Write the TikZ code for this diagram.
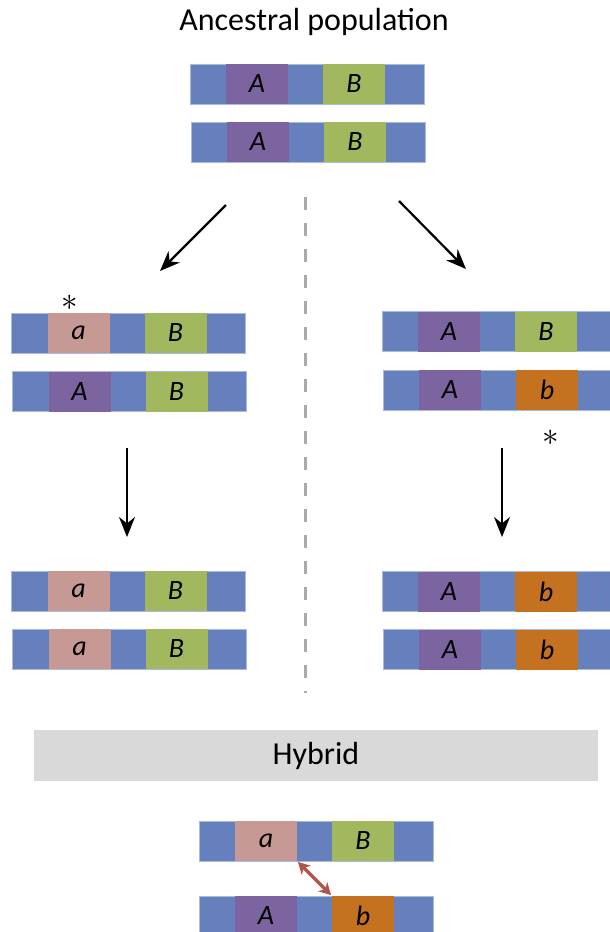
\documentclass[tikz,border=0pt]{standalone}
\usepackage{fontspec}
\usepackage{graphicx}
\setmainfont{Carlito}
\usetikzlibrary{arrows.meta}
\definecolor{chromblue}{RGB}{101,128,188}
\definecolor{chromedge}{RGB}{170,186,222}
\definecolor{genepurple}{RGB}{123,100,160}
\definecolor{genegreen}{RGB}{161,184,94}
\definecolor{genepink}{RGB}{199,153,149}
\definecolor{geneorange}{RGB}{196,113,32}
\definecolor{bargray}{RGB}{217,217,217}
\definecolor{divgray}{RGB}{170,170,170}
\definecolor{clash}{RGB}{178,86,76}
\tikzstyle{chromo} = [rectangle, fill=chromblue, draw=chromedge, line width=0.8pt, minimum width=234pt, minimum height=40pt, inner sep=0pt]
\tikzstyle{gene} = [rectangle, minimum width=62pt, minimum height=40pt, inner sep=0pt, font=\fontsize{28}{28}\selectfont\itshape]
\tikzstyle{arrow} = [line width=2.2pt, -{Stealth[length=20pt, width=16pt]}]
\tikzstyle{clasharrow} = [clash, line width=3.5pt, {Stealth[length=12pt, width=13pt]}-{Stealth[length=12pt, width=13pt]}, shorten >=1pt, shorten <=1pt]
\tikzstyle{divider} = [divgray, line width=3pt, dash pattern=on 13pt off 13pt]
\tikzstyle{hybridbar} = [rectangle, fill=bargray, minimum width=564pt, minimum height=51pt, inner sep=0pt, font=\fontsize{32}{32}\selectfont]
\tikzstyle{mutation} = [inner sep=0pt]
% chromosome: name, x, y, colour 1, label 1, colour 2, label 2
\newcommand{\chrom}[7]{%
  \node (#1) [chromo] at (#2,#3) {};
  \node (#1-1) [gene, fill=#4, xshift=-50pt] at (#1) {#5};
  \node (#1-2) [gene, fill=#6, xshift=47pt] at (#1) {#7};
}
\newcommand{\mutmark}{\scalebox{3.3}{$\ast$}}

\begin{document}
\begin{tikzpicture}[x=1pt, y=-1pt]
        \useasboundingbox (0,0) rectangle (610,932);
        \clip (0,0) rectangle (610,932);

        \node (title) [font=\fontsize{32}{32}\selectfont] at (314,22) {Ancestral population};
        \chrom{anc1}{307}{84}{genepurple}{A}{genegreen}{B}
        \chrom{anc2}{308}{142}{genepurple}{A}{genegreen}{B}

        \chrom{left1}{128.5}{333}{genepink}{a}{genegreen}{B}
        \chrom{left2}{129.5}{391.5}{genepurple}{A}{genegreen}{B}
        \chrom{right1}{499}{331.5}{genepurple}{A}{genegreen}{B}
        \chrom{right2}{500}{390}{genepurple}{A}{geneorange}{b}

        \chrom{left3}{128.5}{591}{genepink}{a}{genegreen}{B}
        \chrom{left4}{129.5}{649}{genepink}{a}{genegreen}{B}
        \chrom{right3}{499}{591.5}{genepurple}{A}{geneorange}{b}
        \chrom{right4}{500}{649.5}{genepurple}{A}{geneorange}{b}

        \node (mutL) [mutation] at (70,303) {\mutmark};
        \node (mutR) [mutation] at (551,438) {\mutmark};

        \node (hybrid) [hybridbar] at (316,755.5) {Hybrid};
        \chrom{hyb1}{316}{841}{genepink}{a}{genegreen}{B}
        \chrom{hyb2}{316}{916}{genepurple}{A}{geneorange}{b}

        % arrows and divider
        \coordinate (splitL) at (226,205);
        \coordinate (popL) at (160,271);
        \coordinate (splitR) at (399,201);
        \coordinate (popR) at (466,269);
        \coordinate (fixLtop) at (127,448);
        \coordinate (fixLbot) at (127,537);
        \coordinate (fixRtop) at (502,448);
        \coordinate (fixRbot) at (502,537);
        \coordinate (divtop) at (305,197);
        \coordinate (divbot) at (305,693);

        \draw [divider] (divtop) -- (divbot);
        \draw [arrow] (splitL) -- (popL);
        \draw [arrow] (splitR) -- (popR);
        \draw [arrow] (fixLtop) -- (fixLbot);
        \draw [arrow] (fixRtop) -- (fixRbot);
        \draw [clasharrow] (hyb1-1.south east) -- (hyb2-2.north west);
    \end{tikzpicture}
\end{document}
